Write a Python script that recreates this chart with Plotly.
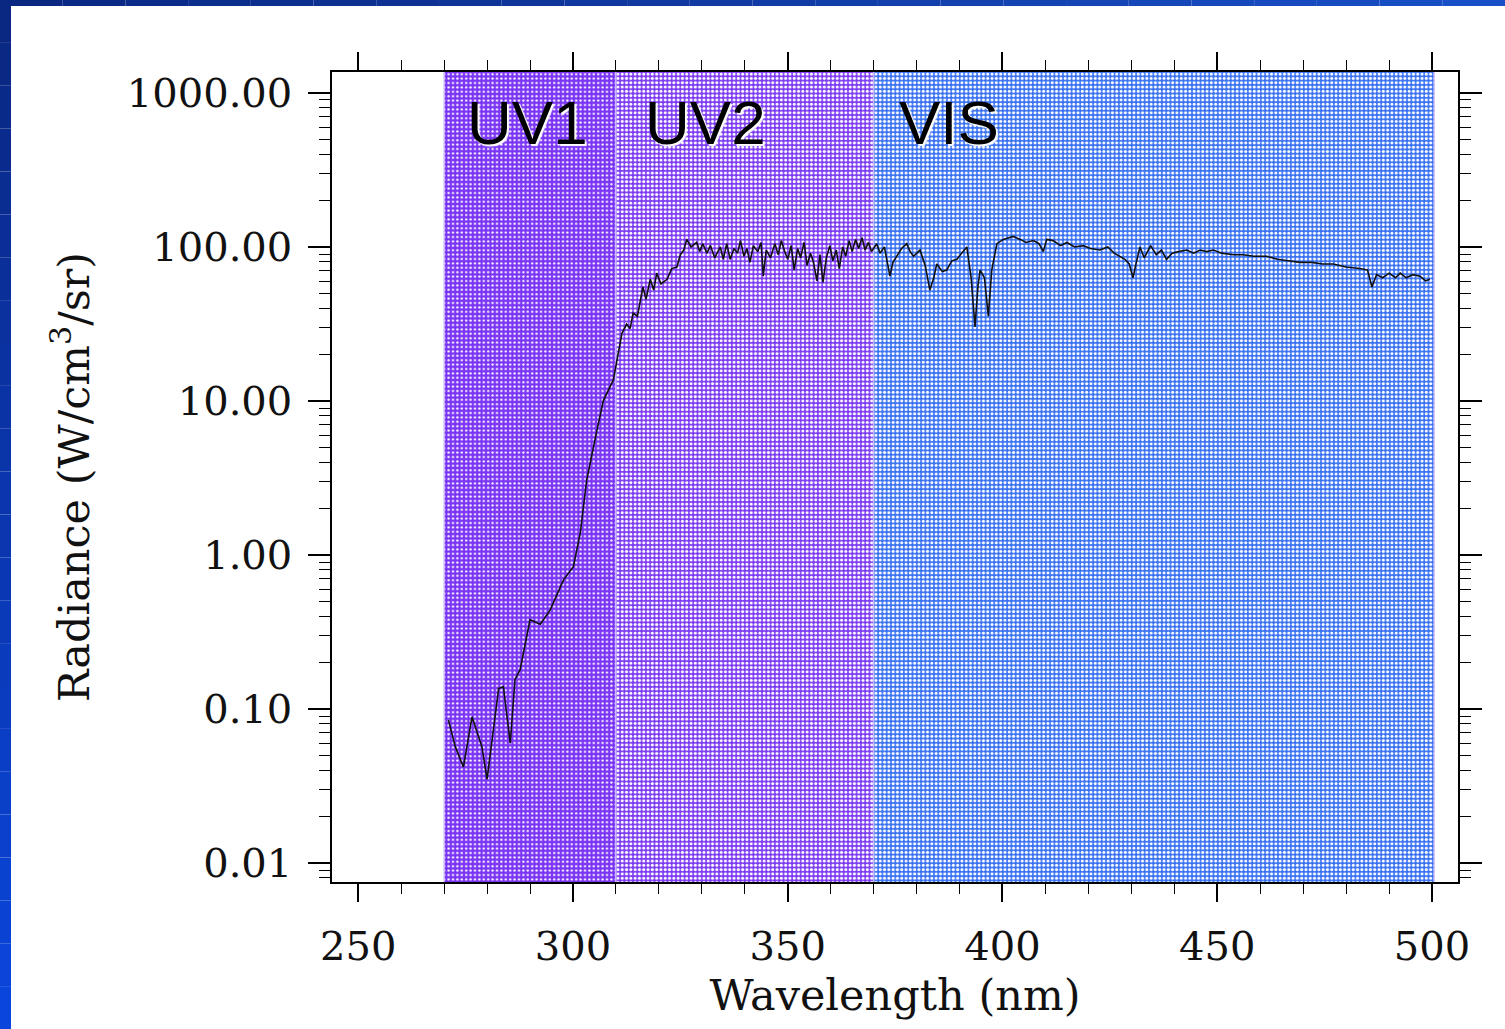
import plotly.graph_objects as go

# spectrum, split by band (wavelength nm, radiance)
uv1_wl = [271.0, 272.6, 274.5, 276.5, 278.8, 280.0, 282.7, 283.8, 285.4, 286.5, 287.7,
          290.0, 292.4, 294.7, 297.8, 300.1, 301.7, 303.2, 305.6, 307.1, 309.4]
uv1_rad = [0.085, 0.057, 0.042, 0.089, 0.057, 0.035, 0.136, 0.14, 0.06, 0.155, 0.18,
           0.38, 0.355, 0.44, 0.69, 0.84, 1.39, 3.07, 6.5, 10.1, 13.7]

uv2_wl = [311.4, 312.5, 313.3, 314.0, 315.0, 316.3, 317.0, 318.0, 318.8, 319.5, 320.5,
          321.9, 323.0, 324.2, 325.0, 325.8, 326.5, 327.5, 328.8, 329.5, 330.2, 331.2,
          332.0, 333.0, 334.3, 335.0, 335.8, 336.6, 337.5, 338.3, 339.0, 339.8, 340.5,
          341.2, 342.0, 343.0, 343.8, 344.3, 345.0, 346.0, 347.0, 347.8, 348.5, 349.3,
          350.0, 350.8, 351.5, 352.3, 353.0, 353.8, 354.5, 355.3, 356.0, 356.8, 357.5,
          358.2, 359.0, 359.8, 360.5, 361.3, 362.0, 362.8, 363.5, 364.3, 365.0, 365.8,
          366.5, 367.3, 368.0, 368.8, 369.5]
uv2_rad = [27.5, 31.6, 29.5, 37.2, 35.5, 55.0, 45.7, 61.7, 52.5, 67.6, 57.5,
           61.7, 72.4, 74.1, 89.1, 95.5, 112, 100, 107, 93.3, 105, 91.2,
           102, 85.1, 100, 83.2, 105, 83.2, 97.7, 91.2, 110, 87.1, 97.7,
           79.4, 102, 93.3, 107, 64.6, 95.5, 85.1, 105, 89.1, 110, 93.3,
           83.2, 102, 70.8, 97.7, 85.1, 107, 75.9, 91.2, 79.4, 60.3, 89.1,
           58.9, 85.1, 102, 81.3, 95.5, 72.4, 100, 87.1, 110, 93.3, 112,
           97.7, 115, 95.5, 107, 93.3]

vis_wl = [370.7, 371.5, 372.5, 373.8, 374.5, 375.4, 376.5, 377.7, 378.5, 379.3, 380.8,
          382.0, 383.1, 384.0, 384.7, 386.0, 387.0, 388.2, 389.4, 390.5, 391.7, 392.7,
          393.6, 394.3, 394.8, 395.8, 396.7, 397.5, 398.7, 400.2, 402.5, 404.1, 405.5,
          407.2, 408.5, 409.5, 410.3, 411.8, 413.5, 415.0, 416.8, 418.8, 420.5, 422.7,
          424.5, 426.0, 427.4, 428.5, 429.5, 430.4, 431.0, 432.0, 433.0, 433.6, 434.5,
          435.8, 437.0, 438.2, 439.5, 441.0, 442.9, 444.5, 446.0, 447.5, 449.1, 451.0,
          453.8, 456.0, 458.5, 461.5, 464.0, 466.5, 469.3, 472.0, 474.5, 477.0, 480.0,
          483.2, 485.0, 486.0, 487.1, 488.5, 490.0, 491.5, 492.6, 494.0, 495.5, 497.2,
          498.5, 499.5]
vis_rad = [105, 91.2, 100, 64.6, 79.4, 87.1, 97.7, 105, 93.3, 87.1, 95.5,
           75.9, 52.5, 63.1, 77.6, 69.2, 70.8, 81.3, 83.2, 91.2, 100, 63.1,
           30.2, 56.2, 70.8, 63.1, 35.5, 70.8, 105, 112, 117, 112, 107,
           110, 105, 93.3, 112, 110, 102, 107, 100, 102, 97.7, 95.5,
           100, 91.2, 87.1, 83.2, 77.6, 63.1, 75.9, 100, 85.1, 91.2, 102,
           89.1, 95.5, 83.2, 91.2, 93.3, 95.5, 91.2, 95.5, 93.3, 95.5, 91.2,
           89.1, 89.1, 87.1, 87.1, 83.2, 81.3, 79.4, 79.4, 77.6, 77.6, 74.1,
           72.4, 70.8, 55.0, 66.1, 63.1, 67.6, 63.1, 67.6, 63.1, 66.1, 64.6,
           60.3, 61.7]

band_names = ["UV1", "UV2", "VIS"]
band_start = [270, 310, 370]
band_end = [310, 370, 500.5]
band_label_x = [274.9, 316.3, 375.5]

W, H = 1505, 1029
ML, MR, MT, MB = 332, 47, 72, 147
PW, PH = W - ML - MR, H - MT - MB


def px_x(p):
    return (p - ML) / PW


def px_y(p):
    return (H - MB - p) / PH


fig = go.Figure()

patterns = [
    dict(shape=".", bgcolor="#7b35f5", fgcolor="white", size=4.4, solidity=0.22, fillmode="replace"),
    dict(shape=".", bgcolor="#7d3cf3", fgcolor="white", size=4.3, solidity=0.4, fillmode="replace"),
    dict(shape=".", bgcolor="#3a72f2", fgcolor="white", size=4.3, solidity=0.4, fillmode="replace"),
]
for name, x0, x1, pat in zip(band_names, band_start, band_end, patterns):
    fig.add_trace(go.Scatter(
        x=[x0, x1, x1, x0, x0], y=[0.004, 0.004, 3000, 3000, 0.004],
        mode="lines", fill="toself", fillpattern=pat,
        line=dict(color="rgba(205,190,250,0.9)", width=1.5),
        hoverinfo="skip", name=name,
    ))

fig.add_trace(go.Scatter(
    x=uv1_wl + uv2_wl + vis_wl, y=uv1_rad + uv2_rad + vis_rad,
    mode="lines", line=dict(color="#111111", width=1.6), name="Radiance",
))

for name, xl in zip(band_names, band_label_x):
    fig.add_annotation(x=xl, y=2.81, xref="x", yref="y", text=name, showarrow=False,
                       xanchor="left", yanchor="middle",
                       font=dict(family="Liberation Sans", size=62, color="black",
                                 shadow="2px 2px 1px white"))

# blue slide frame on the left and top edge
n = 24
for i in range(n):
    t = i / (n - 1)
    c_left = "rgb(%d,%d,%d)" % (10, 40 + 30 * t, 130 + 90 * t)
    fig.add_shape(type="rect", xref="paper", yref="paper", layer="below",
                  x0=px_x(0), x1=px_x(11), y0=px_y(H * (i + 1) / n), y1=px_y(H * i / n),
                  fillcolor=c_left, line_width=0)
    c_top = "rgb(%d,%d,%d)" % (10 + 15 * t, 40 + 40 * t, 130 + 70 * t)
    fig.add_shape(type="rect", xref="paper", yref="paper", layer="below",
                  x0=px_x(W * i / n), x1=px_x(W * (i + 1) / n), y0=px_y(6), y1=px_y(0),
                  fillcolor=c_top, line_width=0)

serif = "DejaVu Serif"
ytick_vals = [0.01, 0.1, 1, 10, 100, 1000]
ytick_text = ["0.01", "0.10", "1.00", "10.00", "100.00", "1000.00"]
yminor = [k * 10 ** e for e in range(-3, 4) for k in range(2, 10)]

fig.update_xaxes(
    range=[243.9, 506.05], tickvals=[250, 300, 350, 400, 450, 500],
    ticks="outside", ticklen=18, tickwidth=1.5, tickcolor="black",
    showline=True, linecolor="black", linewidth=1.5, mirror="ticks",
    showgrid=False, zeroline=False, layer="below traces", ticklabelstandoff=10,
    minor=dict(ticks="outside", ticklen=10, tickwidth=1.2, tickcolor="black", dtick=10, showgrid=False),
    tickfont=dict(family=serif, size=40, color="#111"),
    title=dict(text="Wavelength (nm)", font=dict(family=serif, size=43, color="#111"), standoff=12),
)
fig.update_yaxes(
    type="log", range=[-2.123, 3.136], tickvals=ytick_vals, ticktext=ytick_text,
    ticks="outside", ticklen=22, tickwidth=1.5, tickcolor="black",
    showline=True, linecolor="black", linewidth=1.5, mirror="ticks",
    showgrid=False, zeroline=False, layer="below traces", ticklabelstandoff=8,
    minor=dict(ticks="outside", ticklen=11, tickwidth=1.2, tickcolor="black", tickvals=yminor, showgrid=False),
    tickfont=dict(family=serif, size=40, color="#111"),
    title=dict(text="Radiance (W/cm<sup>3</sup>/sr)", font=dict(family=serif, size=43, color="#111"), standoff=24),
)
fig.update_layout(width=W, height=H, margin=dict(l=ML, r=MR, t=MT, b=MB),
                  paper_bgcolor="white", plot_bgcolor="white", showlegend=False)

fig.write_html("out.html", config={"displayModeBar": False},
               post_script="document.body.style.margin='0';")
